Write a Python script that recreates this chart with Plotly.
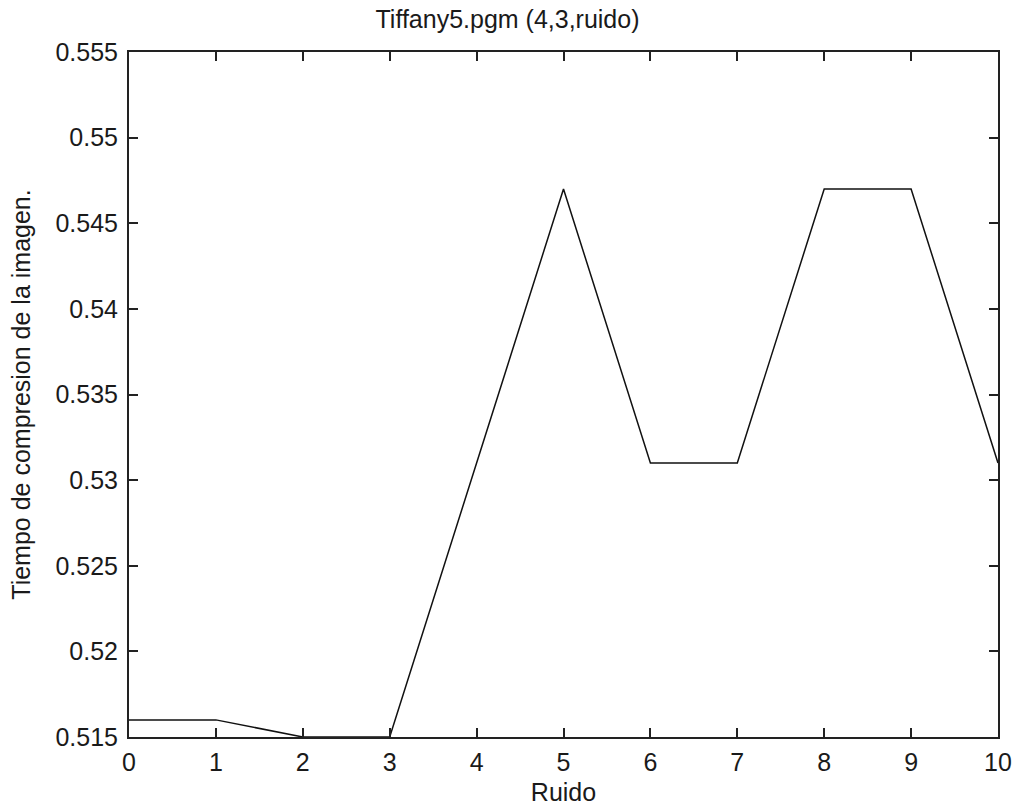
import plotly.graph_objects as go

# Noise level vs. compression time
ruido = [0, 1, 2, 3, 4, 5, 6, 7, 8, 9, 10]
tiempo = [0.516, 0.516, 0.515, 0.515, 0.531, 0.547, 0.531, 0.531, 0.547, 0.547, 0.531]

y_ticks = [0.515, 0.52, 0.525, 0.53, 0.535, 0.54, 0.545, 0.55, 0.555]
y_labels = ["0.515", "0.52", "0.525", "0.53", "0.535", "0.54", "0.545", "0.55", "0.555"]

font = dict(family="Liberation Sans, Arial, sans-serif", size=25, color="#1a1a1a")

fig = go.Figure()
fig.add_trace(go.Scatter(
    x=ruido, y=tiempo, mode="lines",
    line=dict(color="#111111", width=1.5),
    showlegend=False, cliponaxis=True,
))

axis_common = dict(
    showgrid=False, zeroline=False, automargin=False,
    showline=True, linecolor="#222222", linewidth=2, mirror="ticks",
    ticks="inside", ticklen=9, tickwidth=2, tickcolor="#222222",
    tickfont=font,
)

fig.update_layout(
    width=1015, height=807,
    margin=dict(l=129, r=17, t=52, b=70),
    paper_bgcolor="white", plot_bgcolor="white",
    font=font,
    title=dict(text="Tiffany5.pgm (4,3,ruido)", x=0.5, xanchor="center",
               y=1 - 19 / 807, yanchor="middle", font=font),
    xaxis=dict(range=[0, 10], tickvals=ruido, ticktext=[str(v) for v in ruido],
               ticklabelstandoff=2,
               title=dict(text="Ruido", font=font, standoff=8), **axis_common),
    yaxis=dict(range=[0.515, 0.555], tickvals=y_ticks, ticktext=y_labels,
               ticklabelstandoff=4,
               title=dict(text="Tiempo de compresion de la imagen.", font=font, standoff=18),
               **axis_common),
)

fig.write_html("out.html")
